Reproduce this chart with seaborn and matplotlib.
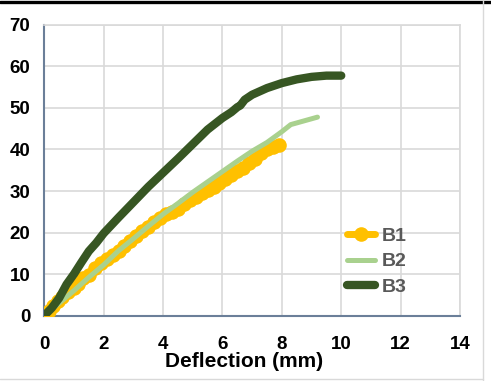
import matplotlib
matplotlib.use("Agg")
import matplotlib.pyplot as plt
from matplotlib.lines import Line2D
import pandas as pd
import seaborn as sns

# Load-deflection readings for the three beams
b1_defl = [0, 0.15, 0.3, 0.45, 0.6, 0.8, 1.0, 1.15, 1.3, 1.5, 1.7, 1.9, 2.1, 2.3,
           2.5, 2.7, 2.9, 3.1, 3.3, 3.5, 3.7, 3.9, 4.1, 4.3, 4.5, 4.7, 4.9, 5.1,
           5.3, 5.5, 5.7, 5.9, 6.1, 6.3, 6.5, 6.7, 6.9, 7.1, 7.3, 7.5, 7.7, 7.9]
b1_load = [0, 1.2, 2.4, 3.4, 4.4, 5.6, 6.6, 7.6, 9.0, 9.8, 11.4, 12.6, 13.6, 14.6,
           15.6, 16.8, 18.0, 19.2, 20.4, 21.4, 22.6, 23.4, 24.4, 25.0, 25.6, 26.8,
           27.8, 28.6, 29.4, 30.2, 31.0, 32.0, 33.0, 33.8, 34.8, 35.6, 36.8, 37.8,
           39.2, 40.0, 40.6, 41.2]

b2_defl = [0, 0.5, 1.0, 1.5, 2.0, 2.5, 3.0, 3.5, 4.0, 4.5, 5.0, 5.5, 6.0, 6.5,
           7.0, 7.5, 8.0, 8.3, 8.7, 9.2]
b2_load = [0, 3.0, 6.0, 9.2, 12.2, 15.6, 18.5, 21.5, 24.4, 27.0, 29.7, 32.2, 34.7,
           37.2, 39.6, 41.7, 44.3, 46.0, 46.8, 47.8]

b3_defl = [0, 0.25, 0.5, 0.75, 1.0, 1.25, 1.5, 1.75, 2.0, 2.5, 3.0, 3.5, 4.0, 4.5,
           5.0, 5.5, 6.0, 6.3, 6.5, 6.6, 6.75, 7.0, 7.5, 8.0, 8.5, 9.0, 9.5, 10.0]
b3_load = [0, 1.8, 4.2, 7.5, 10.0, 12.8, 15.5, 17.5, 19.8, 23.6, 27.3, 31.0, 34.4,
           37.8, 41.3, 44.8, 47.6, 49.0, 50.2, 50.6, 52.0, 53.2, 54.8, 56.0, 56.9,
           57.5, 57.8, 57.8]

x_ticks = [0, 2, 4, 6, 8, 10, 12, 14]
y_ticks = [0, 10, 20, 30, 40, 50, 60, 70]

sns.set_style("whitegrid", {"grid.color": "#d9d9d9", "axes.edgecolor": "#6b7f99"})
plt.rcParams["font.family"] = ["Liberation Sans", "DejaVu Sans"]

fig = plt.figure(figsize=(4.91, 3.81), dpi=100)
ax = fig.add_axes([0.0902, 0.1719, 0.8467, 0.7625])

df1 = pd.DataFrame({"Deflection": b1_defl, "Load": b1_load})
df2 = pd.DataFrame({"Deflection": b2_defl, "Load": b2_load})
df3 = pd.DataFrame({"Deflection": b3_defl, "Load": b3_load})

sns.lineplot(data=df1, x="Deflection", y="Load", ax=ax, sort=False, estimator=None,
             color="#ffc000", linewidth=5, marker="o", markersize=10.5,
             markeredgewidth=0, label="B1", zorder=3)
sns.lineplot(data=df2, x="Deflection", y="Load", ax=ax, sort=False, estimator=None,
             color="#a9d18e", linewidth=3.6, label="B2", zorder=4)
sns.lineplot(data=df3, x="Deflection", y="Load", ax=ax, sort=False, estimator=None,
             color="#375623", linewidth=6, label="B3", zorder=5)

ax.set_xlim(0, 14)
ax.set_ylim(0, 70)
ax.set_xticks(x_ticks)
ax.set_yticks(y_ticks)
ax.grid(True, color="#d9d9d9", linewidth=1.2)
ax.tick_params(axis="both", length=0, labelsize=13.5)
ax.tick_params(axis="x", pad=15)
ax.tick_params(axis="y", pad=10)
for lab in ax.get_xticklabels() + ax.get_yticklabels():
    lab.set_fontweight("bold")
    lab.set_color("black")

for side in ["top", "right"]:
    ax.spines[side].set_visible(True)
    ax.spines[side].set_color("#d9d9d9")
    ax.spines[side].set_linewidth(1.2)
for side in ["left", "bottom"]:
    ax.spines[side].set_color("#6b7f99")
    ax.spines[side].set_linewidth(1.5)

ax.set_ylabel("")
ax.set_xlabel("Deflection (mm)", fontsize=15, fontweight="bold", color="black")
ax.xaxis.set_label_coords(0.48, -0.158)
ax.xaxis.label.set_va("center")

leg = ax.legend(loc="upper left", bbox_to_anchor=(347 / 491, 1 - 227 / 381),
                bbox_transform=fig.transFigure, frameon=False, borderpad=0,
                borderaxespad=0, handlelength=1.45, handletextpad=0.35,
                labelspacing=0.42, prop={"size": 14, "weight": "bold"})
for t in leg.get_texts():
    t.set_color("#595959")

# Chart area border: dark strip on top, light rules on right and bottom
fig.add_artist(Line2D([0, 1], [1 - 1.5 / 381, 1 - 1.5 / 381], color="black",
                      linewidth=2.4, transform=fig.transFigure))
fig.add_artist(Line2D([483 / 491, 483 / 491], [0, 1], color="#d9d9d9",
                      linewidth=1.0, transform=fig.transFigure))
fig.add_artist(Line2D([0, 483 / 491], [2 / 381, 2 / 381], color="#d9d9d9",
                      linewidth=1.0, transform=fig.transFigure))

fig.savefig("out.png", dpi=100)
